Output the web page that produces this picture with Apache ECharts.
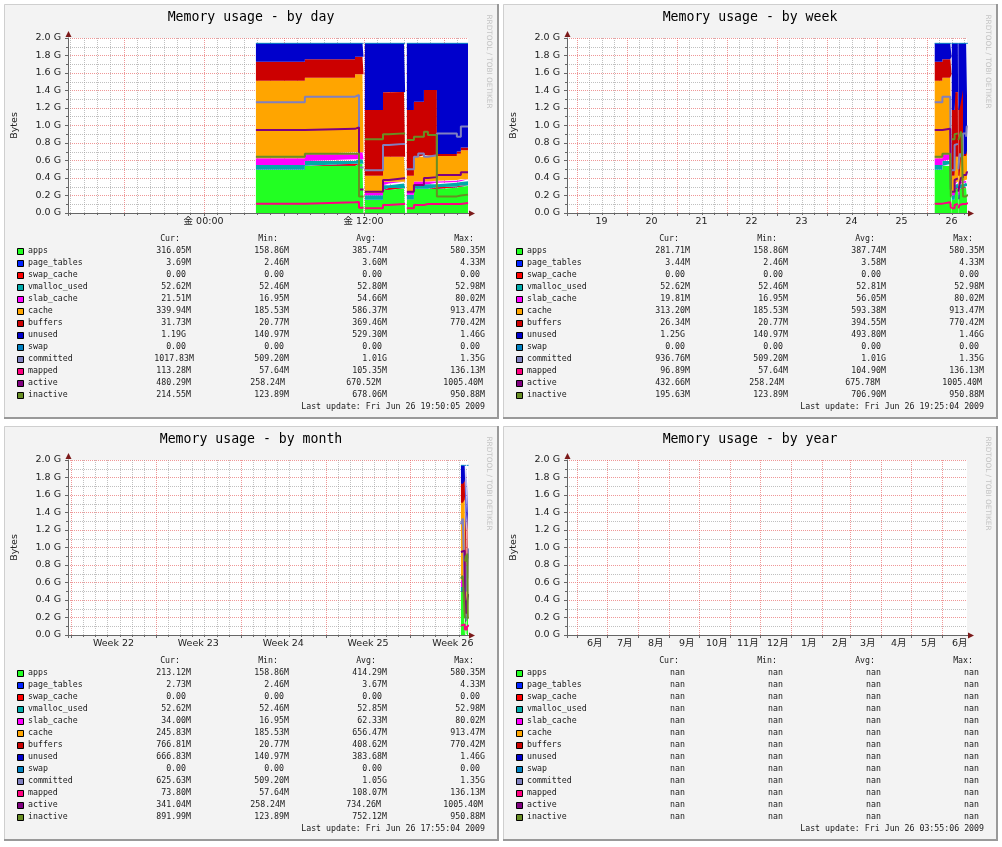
<!DOCTYPE html>
<html lang="ja">
<head>
<meta charset="UTF-8">
<title>Memory usage</title>
<script src="https://cdn.jsdelivr.net/npm/echarts@6/dist/echarts.min.js"></script>
<style>
  body { margin: 0; background: #fff; }
  #main { width: 1002px; height: 847px; }
</style>
</head>
<body>
<div id="main"></div>
<script>
// sample times, hours since Fri Jun 26 2009 00:00 (null rows are the gaps in the rrd)
var hours = [3.93, 7.6, 11.36, 11.66, 11.92, 12.0, 12.1, 13.46, 13.9, 15.03, 15.12, 15.25, 15.78, 16.1, 16.53, 16.83, 17.5, 19.0, 19.3, 19.835];

// stacked areas, in G
var apps        = [0.495, 0.538, 0.56, 0.56, 0.56, null, 0.149, 0.263, 0.282, 0.282, null, 0.156, 0.274, 0.274, 0.274, 0.274, 0.29, 0.30, 0.309, 0.309];
var pageTables  = [0.003, 0.003, 0.003, 0.003, 0.003, null, 0.003, 0.003, 0.003, 0.003, null, 0.003, 0.003, 0.003, 0.003, 0.003, 0.003, 0.003, 0.004, 0.004];
var swapCache   = [0, 0, 0, 0, 0, null, 0, 0, 0, 0, null, 0, 0, 0, 0, 0, 0, 0, 0, 0];
var vmallocUsed = [0.051, 0.052, 0.052, 0.052, 0.052, null, 0.051, 0.052, 0.052, 0.052, null, 0.051, 0.052, 0.052, 0.052, 0.052, 0.052, 0.052, 0.051, 0.051];
var slabCache   = [0.078, 0.078, 0.078, 0.078, 0.078, null, 0.025, 0.04, 0.021, 0.021, null, 0.03, 0.03, 0.03, 0.03, 0.03, 0.025, 0.022, 0.021, 0.021];
var cache       = [0.885, 0.876, 0.892, 0.892, 0.892, null, 0.199, 0.286, 0.286, 0.286, null, 0.187, 0.285, 0.285, 0.30, 0.30, 0.281, 0.30, 0.332, 0.332];
var buffers     = [0.218, 0.209, 0.202, 0.202, 0.202, null, 0.75, 0.736, 0.74, 0.74, null, 0.75, 0.628, 0.628, 0.747, 0.747, 0.023, 0.025, 0.031, 0.031];
var unused      = [0.209, 0.183, 0.152, 0.152, 0.152, null, 0.762, 0.559, 0.555, 0.555, null, 0.762, 0.667, 0.667, 0.533, 0.533, 1.265, 1.237, 1.191, 1.191];
var swap        = [0, 0, 0, 0, 0, null, 0, 0, 0, 0, null, 0, 0, 0, 0, 0, 0, 0, 0, 0];

// lines, in G
var committed = [1.265, 1.33, 1.349, 0.52, 0.52, null, 0.49, 0.777, 0.79, 0.79, null, 0.50, 0.644, 0.68, 0.644, 0.66, 0.91, 0.872, 0.99, 0.99];
var mapped    = [0.107, 0.122, 0.125, 0.06, 0.06, null, 0.053, 0.091, 0.103, 0.103, null, 0.053, 0.091, 0.091, 0.103, 0.103, 0.103, 0.103, 0.115, 0.115];
var active    = [0.949, 0.962, 0.979, 0.27, 0.27, null, 0.244, 0.377, 0.396, 0.396, null, 0.244, 0.32, 0.32, 0.40, 0.41, 0.434, 0.434, 0.467, 0.467];
var inactive  = [0.644, 0.678, 0.68, 0.19, 0.19, null, 0.842, 0.90, 0.91, 0.91, null, 0.834, 0.872, 0.872, 0.93, 0.891, 0.19, 0.20, 0.21, 0.21];

var names = ['apps', 'page_tables', 'swap_cache', 'vmalloc_used', 'slab_cache', 'cache', 'buffers', 'unused', 'swap', 'committed', 'mapped', 'active', 'inactive'];

// legend tables (Cur / Min / Avg / Max)
var dayCur = ['316.05M', '3.69M', '0.00', '52.62M', '21.51M', '339.94M', '31.73M', '1.19G', '0.00', '1017.83M', '113.28M', '480.29M', '214.55M'];
var dayMin = ['158.86M', '2.46M', '0.00', '52.46M', '16.95M', '185.53M', '20.77M', '140.97M', '0.00', '509.20M', '57.64M', '258.24M', '123.89M'];
var dayAvg = ['385.74M', '3.60M', '0.00', '52.80M', '54.66M', '586.37M', '369.46M', '529.30M', '0.00', '1.01G', '105.35M', '670.52M', '678.06M'];
var dayMax = ['580.35M', '4.33M', '0.00', '52.98M', '80.02M', '913.47M', '770.42M', '1.46G', '0.00', '1.35G', '136.13M', '1005.40M', '950.88M'];

var weekCur = ['281.71M', '3.44M', '0.00', '52.62M', '19.81M', '313.20M', '26.34M', '1.25G', '0.00', '936.76M', '96.89M', '432.66M', '195.63M'];
var weekMin = ['158.86M', '2.46M', '0.00', '52.46M', '16.95M', '185.53M', '20.77M', '140.97M', '0.00', '509.20M', '57.64M', '258.24M', '123.89M'];
var weekAvg = ['387.74M', '3.58M', '0.00', '52.81M', '56.05M', '593.38M', '394.55M', '493.80M', '0.00', '1.01G', '104.90M', '675.78M', '706.90M'];
var weekMax = ['580.35M', '4.33M', '0.00', '52.98M', '80.02M', '913.47M', '770.42M', '1.46G', '0.00', '1.35G', '136.13M', '1005.40M', '950.88M'];

var monthCur = ['213.12M', '2.73M', '0.00', '52.62M', '34.00M', '245.83M', '766.81M', '666.83M', '0.00', '625.63M', '73.80M', '341.04M', '891.99M'];
var monthMin = ['158.86M', '2.46M', '0.00', '52.46M', '16.95M', '185.53M', '20.77M', '140.97M', '0.00', '509.20M', '57.64M', '258.24M', '123.89M'];
var monthAvg = ['414.29M', '3.67M', '0.00', '52.85M', '62.33M', '656.47M', '408.62M', '383.68M', '0.00', '1.05G', '108.07M', '734.26M', '752.12M'];
var monthMax = ['580.35M', '4.33M', '0.00', '52.98M', '80.02M', '913.47M', '770.42M', '1.46G', '0.00', '1.35G', '136.13M', '1005.40M', '950.88M'];

var yearCur = ['nan', 'nan', 'nan', 'nan', 'nan', 'nan', 'nan', 'nan', 'nan', 'nan', 'nan', 'nan', 'nan'];
var yearMin = ['nan', 'nan', 'nan', 'nan', 'nan', 'nan', 'nan', 'nan', 'nan', 'nan', 'nan', 'nan', 'nan'];
var yearAvg = ['nan', 'nan', 'nan', 'nan', 'nan', 'nan', 'nan', 'nan', 'nan', 'nan', 'nan', 'nan', 'nan'];
var yearMax = ['nan', 'nan', 'nan', 'nan', 'nan', 'nan', 'nan', 'nan', 'nan', 'nan', 'nan', 'nan', 'nan'];

var titles = ['Memory usage - by day', 'Memory usage - by week', 'Memory usage - by month', 'Memory usage - by year'];
var lastUpdate = ['Fri Jun 26 19:50:05 2009', 'Fri Jun 26 19:25:04 2009', 'Fri Jun 26 17:55:04 2009', 'Fri Jun 26 03:55:06 2009'];
var endHours = [19.835, 19.418, 17.918, 3.918];
var spanHours = [30, 192, 792, 9600];

// x tick labels
var dayTickLabels = ['金 00:00', '金 12:00'];
var dayTickHours = [0, 12];
var weekTickLabels = ['19', '20', '21', '22', '23', '24', '25', '26'];
var monthTickLabels = ['Week 22', 'Week 23', 'Week 24', 'Week 25', 'Week 26'];
var yearTickLabels = ['6月', '7月', '8月', '9月', '10月', '11月', '12月', '1月', '2月', '3月', '4月', '5月', '6月'];

var colors = ['#22ff22', '#0022ff', '#ff0000', '#00aaaa', '#ff00ff', '#ffa500', '#cc0000', '#0000cc', '#0080c0', '#8080c0', '#ff0080', '#800080', '#688e23'];
var MAJOR = 'rgba(230,95,95,0.65)';
var MINOR = 'rgba(150,150,150,0.6)';
var AXIS = '#666';
var ARROW = '#7c1a1a';
var MONO = '"DejaVu Sans Mono", monospace';
var SANS = '"DejaVu Sans", "Noto Sans CJK JP", sans-serif';

var T0 = Date.UTC(2009, 5, 26);
var HOUR = 3600000;
function hrs(y, m, d) { return (Date.UTC(y, m, d) - T0) / HOUR; }
function ms(h) { return T0 + h * HOUR; }

var panels = [[4, 4], [503, 4], [4, 426], [503, 426]];

var stackVals = [apps, pageTables, swapCache, vmallocUsed, slabCache, cache, buffers, unused, swap];
var lineVals = [committed, mapped, active, inactive];
var tables = [
  [dayCur, dayMin, dayAvg, dayMax],
  [weekCur, weekMin, weekAvg, weekMax],
  [monthCur, monthMin, monthAvg, monthMax],
  [yearCur, yearMin, yearAvg, yearMax]
];

function pairs(vals) {
  return hours.map(function (h, i) { return [ms(h), vals[i]]; });
}

// grid lines + label positions (in hours) for each time scale
function timeScale(i, start, end) {
  var grid = [], pos = [], labels = [], h, k;
  if (i === 0) {
    for (h = Math.ceil(start); h <= end; h++) grid.push([h, h % 6 === 0 ? 1 : 0]);
    pos = dayTickHours; labels = dayTickLabels;
  } else if (i === 1) {
    for (h = Math.ceil(start / 6) * 6; h <= end; h += 6) grid.push([h, h % 24 === 0 ? 1 : 0]);
    labels = weekTickLabels;
    pos = weekTickLabels.map(function (d) { return (Number(d) - 26) * 24 + 12; });
  } else if (i === 2) {
    var monday = hrs(2009, 4, 25);
    for (h = Math.ceil(start / 24) * 24; h <= end; h += 24) grid.push([h, (h - monday) % 168 === 0 ? 1 : 0]);
    labels = monthTickLabels;
    pos = monthTickLabels.map(function (w, j) { return monday + 168 * j + 84; });
  } else {
    labels = yearTickLabels;
    for (k = 0; k < yearTickLabels.length; k++) {
      h = hrs(2008, 5 + k, 1);
      grid.push([h, 1]);
      pos.push(h + 18 * 24);
    }
  }
  return {grid: grid, pos: pos, labels: labels};
}

var grids = [], xAxes = [], yAxes = [], series = [], graphics = [];

panels.forEach(function (p, i) {
  var dx = p[0] - 4, dy = p[1] - 4;
  var gx = 68 + dx, gy = 38 + dy, gw = 400, gh = 175;
  var end = endHours[i], start = end - spanHours[i];
  var ts = timeScale(i, start, end);

  grids.push({left: gx, top: gy, width: gw, height: gh, containLabel: false});

  // time axis carries the data (so stacking runs on y)
  xAxes.push({
    gridIndex: i, type: 'time', position: 'bottom', min: ms(start), max: ms(end),
    axisLine: {show: true, onZero: false, lineStyle: {color: AXIS}},
    axisTick: {show: false}, axisLabel: {show: false}, splitLine: {show: false}
  });
  // hour axis on the same grid carries the tick labels and grid lines
  xAxes.push({
    gridIndex: i, type: 'value', position: 'bottom', min: start, max: end,
    axisLine: {show: false, onZero: false},
    axisTick: {show: false},
    splitLine: {show: false},
    axisLabel: {
      customValues: ts.pos,
      formatter: function (v) {
        for (var j = 0; j < ts.pos.length; j++) if (Math.abs(ts.pos[j] - v) < 1e-6) return ts.labels[j];
        return '';
      },
      fontFamily: SANS, fontSize: 9.5, color: '#222', margin: 4
    }
  });

  yAxes.push({
    gridIndex: i, type: 'value', min: 0, max: 2, interval: 0.2,
    name: 'Bytes', nameLocation: 'middle', nameGap: 49, nameRotate: 90,
    nameTextStyle: {fontFamily: SANS, fontSize: 9.5, color: '#222'},
    axisLine: {show: true, onZero: false, lineStyle: {color: AXIS}},
    axisTick: {show: true, length: 3, lineStyle: {color: AXIS}},
    minorTick: {show: true, splitNumber: 2, length: 2, lineStyle: {color: AXIS}},
    axisLabel: {
      formatter: function (v) { return v.toFixed(1) + ' G'; },
      fontFamily: SANS, fontSize: 9.5, color: '#222', margin: 7
    },
    splitLine: {show: true, lineStyle: {color: MAJOR, type: [1, 1]}},
    minorSplitLine: {show: true, lineStyle: {color: MINOR, type: [1, 1]}}
  });

  // vertical grid lines and x ticks
  series.push({
    type: 'custom', xAxisIndex: 2 * i + 1, yAxisIndex: i, z: 1, silent: true, animation: false,
    data: ts.grid,
    renderItem: function (params, api) {
      var pt = api.coord([api.value(0), 0]);
      var cs = params.coordSys;
      var x = Math.round(pt[0]) + 0.5;
      var major = api.value(1) === 1;
      return {type: 'group', children: [
        {type: 'line', shape: {x1: x, y1: cs.y, x2: x, y2: cs.y + cs.height},
         style: {stroke: major ? MAJOR : MINOR, lineWidth: 1, lineDash: [1, 1]}},
        {type: 'line', shape: {x1: x, y1: cs.y + cs.height, x2: x, y2: cs.y + cs.height + (major ? 3 : 2)},
         style: {stroke: AXIS, lineWidth: 1}}
      ]};
    }
  });

  if (i < 3) {
    stackVals.forEach(function (vals, k) {
      series.push({
        name: names[k], type: 'line', xAxisIndex: 2 * i, yAxisIndex: i, stack: 'mem' + i, step: 'end',
        data: pairs(vals), symbol: 'none', connectNulls: false, silent: true, animation: false, z: 2,
        lineStyle: {width: k === 8 ? 1 : 0, color: colors[k]},
        itemStyle: {color: colors[k]},
        areaStyle: {color: colors[k], opacity: 1}
      });
    });
    lineVals.forEach(function (vals, k) {
      series.push({
        name: names[9 + k], type: 'line', xAxisIndex: 2 * i, yAxisIndex: i, step: 'end',
        data: pairs(vals), symbol: 'none', connectNulls: false, silent: true, animation: false, z: 3,
        lineStyle: {width: 2, color: colors[9 + k]},
        itemStyle: {color: colors[9 + k]}
      });
    });
  }

  // panel frame and canvas
  graphics.push(
    {type: 'rect', z: -10, shape: {x: p[0], y: p[1], width: 495, height: 415}, style: {fill: '#f3f3f3'}},
    {type: 'polyline', z: -9, shape: {points: [[p[0] + 0.5, p[1] + 415], [p[0] + 0.5, p[1] + 0.5], [p[0] + 495, p[1] + 0.5]]},
     style: {stroke: '#cfcfcf', lineWidth: 1, fill: null}},
    {type: 'polyline', z: -9, shape: {points: [[p[0] + 494, p[1]], [p[0] + 494, p[1] + 414], [p[0], p[1] + 414]]},
     style: {stroke: '#999', lineWidth: 2, fill: null}},
    {type: 'rect', z: -8, shape: {x: gx, y: gy, width: gw, height: gh}, style: {fill: '#fff'}}
  );

  // axis arrows
  graphics.push(
    {type: 'polyline', z: 5, shape: {points: [[gx - 3, gy + gh + 0.5], [gx, gy + gh + 0.5]]}, style: {stroke: AXIS, lineWidth: 1}},
    {type: 'polyline', z: 5, shape: {points: [[gx + 0.5, gy + gh], [gx + 0.5, gy + gh + 3]]}, style: {stroke: AXIS, lineWidth: 1}},
    {type: 'polyline', z: 5, shape: {points: [[gx + gw, gy + gh + 0.5], [gx + gw + 2, gy + gh + 0.5]]}, style: {stroke: AXIS, lineWidth: 1}},
    {type: 'polygon', z: 5, shape: {points: [[gx + gw + 7, gy + gh + 0.5], [gx + gw + 1, gy + gh - 2.5], [gx + gw + 1, gy + gh + 3.5]]}, style: {fill: ARROW}},
    {type: 'polygon', z: 5, shape: {points: [[gx + 0.5, gy - 7], [gx - 2.5, gy - 1], [gx + 3.5, gy - 1]]}, style: {fill: ARROW}}
  );

  // title and watermark
  graphics.push(
    {type: 'text', z: 10, x: p[0] + 247, y: p[1] + 14,
     style: {text: titles[i], font: '13.2px ' + MONO, fill: '#000', align: 'center', verticalAlign: 'middle'}},
    {type: 'text', z: 10, x: p[0] + 485, y: p[1] + 57.5, rotation: -Math.PI / 2,
     style: {text: 'RRDTOOL / TOBI OETIKER', font: '7.3px ' + SANS, fill: '#c4c4c4', align: 'center', verticalAlign: 'middle'}}
  );

  // legend table
  var LF = '8.25px ' + MONO;
  var headEdge = [180, 278, 376, 474];
  var colEdge = [191, 289, 387, 485];
  ['Cur:', 'Min:', 'Avg:', 'Max:'].forEach(function (h, c) {
    graphics.push({type: 'text', z: 10, x: headEdge[c] + dx, y: 239 + dy,
      style: {text: h, font: LF, fill: '#1a1a1a', align: 'right', verticalAlign: 'middle'}});
  });
  var tbl = tables[i];
  names.forEach(function (nm, r) {
    var ry = 251 + 12 * r + dy;
    graphics.push(
      {type: 'rect', z: 10, shape: {x: 17.5 + dx, y: ry - 2.5, width: 6, height: 6},
       style: {fill: colors[r], stroke: '#000', lineWidth: 1}},
      {type: 'text', z: 10, x: 28 + dx, y: ry,
       style: {text: nm, font: LF, fill: '#1a1a1a', align: 'left', verticalAlign: 'middle'}}
    );
    for (var c = 0; c < 4; c++) {
      var s = tbl[c][r];
      var sh = 0;
      if (s === '0.00' || s === 'nan') sh = -5;
      else if (c === 0 && /G$/.test(s)) sh = -5;
      else if (c === 0 && s.length > 7) sh = 3;
      if (nm === 'active' && s !== 'nan') sh += [0, -4, -6, -2][c];
      graphics.push({type: 'text', z: 10, x: colEdge[c] + dx + sh, y: ry,
        style: {text: s, font: LF, fill: '#1a1a1a', align: 'right', verticalAlign: 'middle'}});
    }
  });
  graphics.push({type: 'text', z: 10, x: 485 + dx, y: 407 + dy,
    style: {text: 'Last update: ' + lastUpdate[i], font: LF, fill: '#1a1a1a', align: 'right', verticalAlign: 'middle'}});
});

var chart = echarts.init(document.getElementById('main'), null, {renderer: 'canvas'});
chart.setOption({
  animation: false,
  backgroundColor: '#fff',
  grid: grids,
  xAxis: xAxes,
  yAxis: yAxes,
  series: series,
  graphic: {elements: graphics}
});
</script>
</body>
</html>
